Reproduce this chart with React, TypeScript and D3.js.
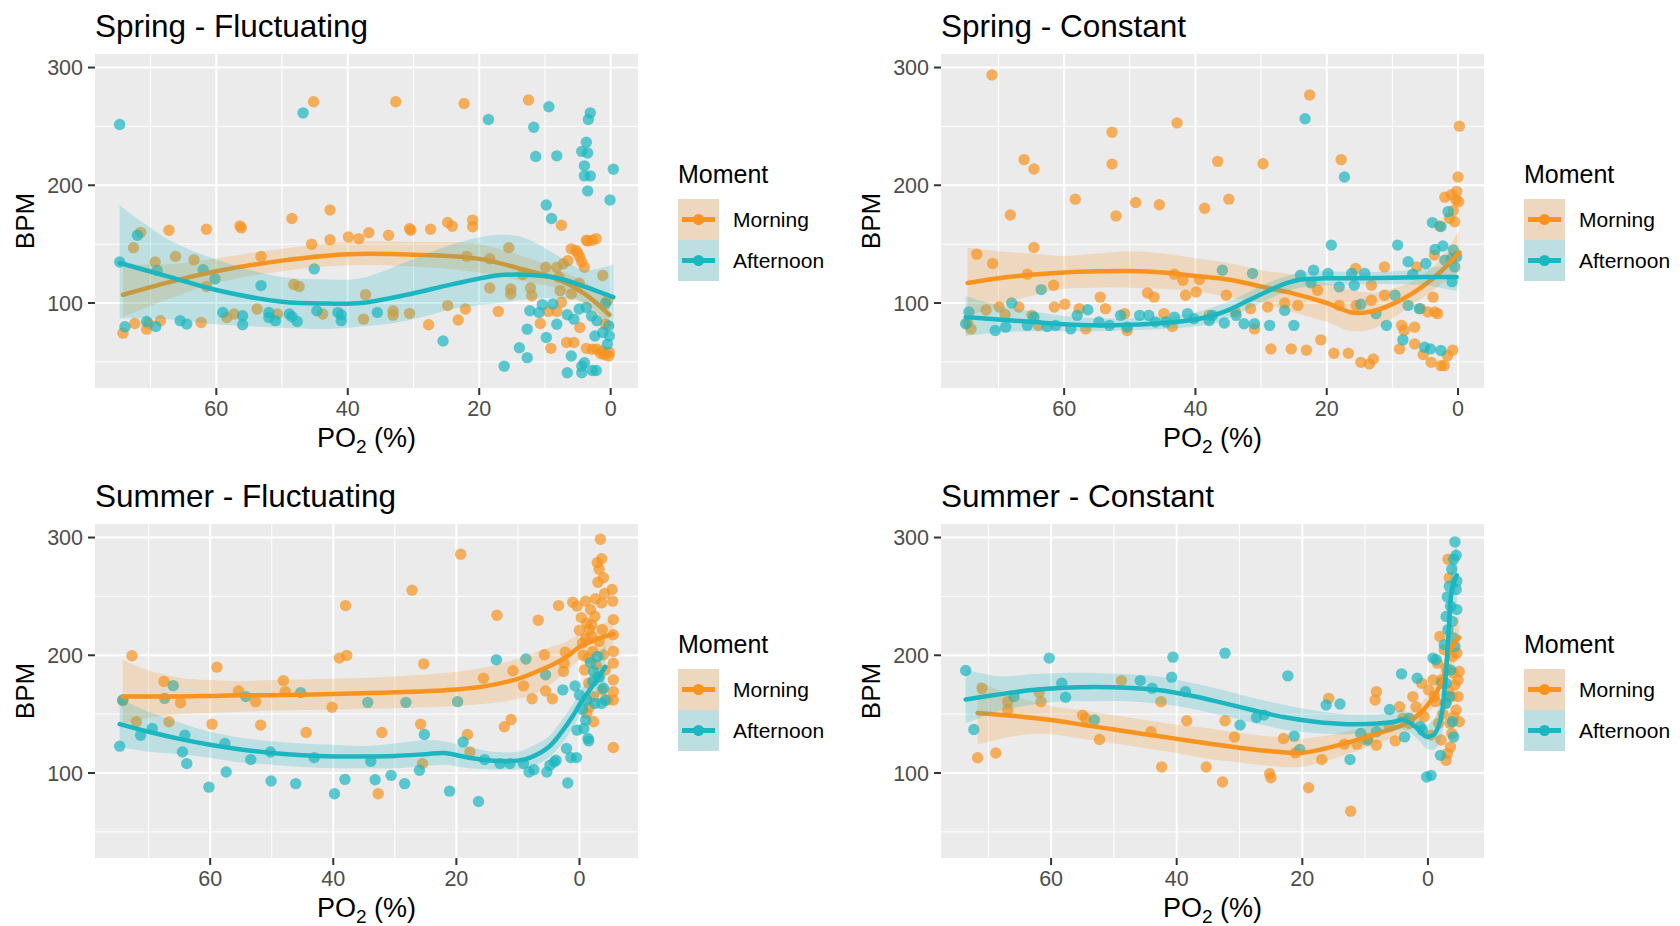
import React from 'react';
import * as d3 from 'd3';

type Pt = [number, number];
// po2, bpm, lower, upper
type Fit = [number, number, number, number];

const moments = ['Morning', 'Afternoon'];
const momentColors = ['#F7931E', '#1BB6C0'];
const xTicks = [60, 40, 20, 0];
const xMinor = [70, 50, 30, 10, -10];
const yTicks = [100, 200, 300];
const yMinor = [50, 150, 250];
const panelTitles = ['Spring - Fluctuating', 'Spring - Constant', 'Summer - Fluctuating', 'Summer - Constant'];

// ---- Spring - Fluctuating
const springFlucMorning: Pt[] = [
  [74.2, 74.4], [72.6, 147], [71.5, 160], [72.4, 82.6], [70.6, 77.8], [70.3, 82.6], [68.5, 85], [69.3, 134.8],
  [67.2, 161.8], [66.2, 139.6], [63.4, 136.8], [62.3, 83.5], [61.5, 162.7], [61.5, 114], [58.4, 87.7], [57.3, 90.6],
  [56.4, 165.5], [56.2, 163.8], [53.2, 139.6], [53.8, 94.9], [50.7, 90.6], [48.5, 171.8], [48.2, 115.7], [47.4, 114],
  [45.5, 149.9], [45.2, 271], [42.7, 179], [42.7, 153.8], [43.8, 90.6], [39.9, 156], [38.3, 154.7], [37.6, 86.3],
  [37.3, 107.1], [36.8, 159.8], [33.8, 157.5], [33.1, 93.4], [33.1, 89.7], [32.7, 271], [30.6, 163.2], [30.4, 161.8],
  [30.6, 91.2], [27.7, 81.5], [27.4, 162.7], [24.8, 97.8], [24.8, 168.4], [24.1, 165.2], [23.2, 85.5], [22.3, 269.5],
  [22.1, 94.9], [21, 170.4], [21, 164.7], [21.9, 139.6], [18.4, 137.6], [18.4, 112.8], [17.1, 92.9], [15.5, 147],
  [15.2, 107.7], [15.2, 112], [13.4, 124.2], [12.5, 272.4], [12.2, 112.8], [12, 106.2], [10.7, 82.6], [9.9, 130.4],
  [9.5, 92.9], [9.1, 61.5], [8.2, 92.9], [8.2, 130.4], [7.9, 122], [7.7, 110.5], [7.5, 100.6], [7.5, 166],
  [6.7, 66.4], [5.6, 66.4], [7.2, 133.3], [6.5, 136], [6, 146], [5.3, 144.7], [5, 142.5], [4.7, 139], [4.4, 134.8],
  [4, 130.4], [3.7, 153.3], [3.5, 152.7], [2.8, 153.3], [2.2, 154.7], [4.7, 79.2], [3.7, 61.5], [2.8, 60.7],
  [2.1, 60.7], [1.5, 57], [0.9, 56], [0.3, 55], [0.2, 58], [1.2, 59], [1.2, 123.4], [0.5, 102], [0.8, 82],
  [6, 107.7], [4.8, 116.8],
];
const springFlucAfternoon: Pt[] = [
  [74.7, 251.6], [74.7, 134.8], [73.9, 79.8], [72, 157.5], [70.6, 84.3], [69.2, 80], [69, 127.6], [65.5, 84.9],
  [64.5, 82.1], [62, 128.2], [60.2, 120.5], [59, 92], [56, 81.5], [56, 89.2], [53.2, 114.8], [52, 92], [52, 87.7],
  [51, 85], [48.9, 90.6], [48.5, 88.3], [47.7, 84.3], [46.8, 261.5], [45.1, 129], [44.7, 93.4], [41.5, 92], [41, 85],
  [41, 90], [35.5, 92], [25.5, 67.8], [18.6, 255.8], [16.2, 46.4], [13.9, 62], [12.7, 53.6], [12.7, 77.8],
  [12.3, 93.4], [11.7, 249.3], [11.4, 224.5], [10.9, 92], [10.4, 98.6], [9.8, 70.7], [9.8, 183.2], [9.4, 266.7],
  [9, 171.8], [8.8, 99.1], [8.2, 225], [8.2, 82], [6.6, 40.7], [6.6, 90], [6, 55], [5.6, 86.3], [4.8, 94.9],
  [4.4, 46.4], [4.4, 40.7], [4, 49.3], [4.4, 228.8], [4, 216.5], [4, 208], [3.7, 236.5], [3.5, 227.4], [3.5, 195.2],
  [3.4, 255.8], [3.1, 261.5], [3.1, 208], [3.7, 96.3], [2.8, 42.7], [2.2, 42.7], [2.4, 72], [2.9, 89], [2.1, 85],
  [1.2, 75], [0.8, 99.7], [0.5, 65], [0.3, 80.6], [0.1, 187.5], [-0.4, 213.7], [0.2, 72],
];
const springFlucMorningFit: Fit[] = [
  [74.2, 107, 88, 133], [67, 118, 104, 133], [60, 127, 117, 138], [50, 136, 127, 146], [40, 141.5, 132, 152],
  [30, 141, 131, 152], [20, 137.5, 126, 150], [13, 128, 118, 139], [8, 120, 112, 128], [4, 108, 99, 118], [0.2, 90, 78, 104],
];
const springFlucAfternoonFit: Fit[] = [
  [74.7, 134, 87, 183], [67, 122, 86, 153], [60, 111, 82, 137], [50, 101, 79, 122], [43, 99.5, 78, 120],
  [38, 100, 80, 121], [31, 107, 85, 135], [24, 116, 95, 150], [17, 123.5, 100, 158], [13, 124, 103, 155],
  [8, 121, 104, 140], [4, 114, 100, 128], [-0.4, 105, 78, 133],
];

// ---- Spring - Constant
const springConstMorning: Pt[] = [
  [71, 293.7], [73.3, 141.5], [70.9, 133.6], [68.2, 174.8], [66.1, 221.8], [64.6, 213.8], [64.6, 147.2], [65.6, 124.5],
  [61.6, 115.1], [74.7, 83], [74.2, 78], [71.9, 94], [69.9, 96.6], [69, 90.3], [66.9, 96.6], [64.9, 89.5], [63.9, 81],
  [61.5, 96.6], [59.9, 98.9], [58.3, 188.2], [57.7, 95.2], [56.7, 78], [54.5, 105], [53.7, 95.2], [52.7, 245],
  [52.7, 218], [52.1, 174], [50.8, 91], [50.4, 76.7], [49.1, 185.4], [47.3, 108.5], [46.3, 105], [45.5, 183.4],
  [44.8, 91], [43.5, 80], [42.8, 253], [43.2, 124.5], [41.9, 119.3], [41.5, 106.6], [39.9, 109.4], [39.4, 120],
  [38.6, 180.5], [37.9, 89.5], [36.6, 220.3], [35.3, 106.6], [34.9, 188.2], [33.9, 92.3], [31.6, 95.2], [31, 78],
  [29.7, 218.3], [29, 96.6], [28.5, 61], [26.4, 100], [25.4, 61], [24.4, 98], [23.1, 60], [22.6, 276.7],
  [21.4, 110.8], [20.9, 68.7], [18.9, 57.3], [17.8, 221.8], [18.1, 98], [16.7, 57.3], [15.6, 129.3], [15.5, 98],
  [14.8, 49.6], [13.5, 48.2], [12.9, 52.5], [13.2, 115], [13.2, 102.3], [11.2, 130.7], [11.2, 106.6], [8.9, 61],
  [8.6, 81], [8.2, 76.7], [6.6, 65.3], [6.6, 79.5], [6.3, 130.7], [5.7, 95.2], [5.3, 56.2], [4.6, 92.3], [4.1, 49.6],
  [3.8, 105], [3.6, 140.7], [3.5, 92.3], [3.1, 91], [2.8, 165.4], [2.6, 46.8], [2.1, 46.8], [2, 189.9], [1.6, 55.3],
  [1.3, 172], [1, 192], [0.8, 60], [0.7, 178.5], [0.5, 169], [0.3, 187.6], [0.2, 194.7], [0, 207], [-0.2, 250.2],
  [-0.1, 186],
];
const springConstAfternoon: Pt[] = [
  [75, 82.4], [74.5, 92.3], [70.5, 76.7], [68.9, 79.5], [68, 100], [65.6, 81], [64.6, 88], [63.5, 111.4], [62.6, 80],
  [61.3, 81], [59, 78], [58, 89.5], [56.4, 94.3], [54.7, 83.8], [53.1, 81], [51.4, 89.5], [50.4, 79.5], [48.5, 89.5],
  [47.1, 89.5], [46.1, 83.8], [44.5, 83.8], [43.2, 88], [41.2, 91], [40.2, 86.6], [37.9, 85.2], [37.4, 89.5],
  [35.9, 127.9], [35.6, 83], [33.8, 89.5], [32.6, 82.4], [31, 82.4], [31.3, 125], [28.7, 81], [26.4, 93.7], [25, 81],
  [24, 123.6], [23.3, 256.5], [22.4, 117.1], [22, 127.9], [19.8, 125], [19.3, 149.2], [18.1, 113.7], [17.3, 207],
  [16.2, 125], [15.8, 115], [14.8, 98.9], [14.2, 125], [12.5, 91], [10.9, 81], [9.6, 106.6], [9.2, 149.2],
  [8.4, 68.7], [7.6, 98], [7.6, 135], [6.9, 124.5], [5.9, 95.2], [5.1, 62.4], [4.2, 61], [2.6, 59.6], [4.9, 133.6],
  [3.9, 168.3], [3.5, 145.5], [2.6, 164.9], [2.3, 148.4], [2, 136.4], [1.5, 177.6], [1, 137.8], [0.9, 118],
  [0.7, 145], [0.5, 130.7], [0.2, 139.3],
];
const springConstMorningFit: Fit[] = [
  [74.7, 117, 88, 147], [70, 121, 98, 144], [65, 124, 106, 142], [60, 126, 112, 140], [55, 127, 113, 142],
  [50, 127.2, 113, 144], [45, 126, 112, 142], [40, 123, 110, 138], [35, 120, 105, 134], [30, 114, 100, 128],
  [25, 108, 92, 124], [20, 100, 84, 117], [16.2, 92, 76, 111], [13, 93, 78, 109], [10, 99, 87, 112],
  [7, 108, 98, 118], [4, 120, 110, 130], [2, 130, 118, 142], [-0.2, 143, 126, 162],
];
const springConstAfternoonFit: Fit[] = [
  [75, 88, 72, 106], [70, 86, 75, 98], [65, 84, 76, 93], [60, 82, 76, 89], [55, 81, 76, 87], [50, 81.5, 77, 87],
  [45, 83, 78, 88], [40, 86, 80, 92], [37, 90, 83, 97], [35, 94, 87, 101], [32, 102, 95, 109], [29, 110, 103, 117],
  [26, 117, 110, 123], [24, 120, 113, 126], [20, 121, 115, 127], [15, 121, 116, 126], [10, 121.5, 116, 127],
  [5, 122, 115, 129], [0.2, 122, 110, 134],
];

// ---- Summer - Fluctuating
const summerFlucMorning: Pt[] = [
  [74.2, 161.5], [72.7, 199.6], [72, 143.5], [67.5, 177.7], [66.7, 143.5], [64.8, 159.7], [59.7, 141.5],
  [58.9, 189.9], [55.4, 169.7], [52.6, 160.6], [51.8, 140.7], [48.1, 178.5], [47.8, 169.1], [44.4, 134.4],
  [40.2, 155.8], [39, 197.6], [38, 242.2], [37.8, 199.9], [32.7, 82.4], [32.1, 134.4], [27.2, 255.3], [25.8, 141.5],
  [25.5, 108], [25.3, 192.7], [19.3, 285.8], [18.2, 132.7], [17.8, 117.9], [15.6, 180.5], [13.4, 234], [12.2, 139.3],
  [11.1, 145.5], [10.8, 186.8], [9.1, 174], [7.7, 163.1], [6.7, 229.7], [5.7, 200.4], [5.5, 169.7], [4.4, 163.1],
  [3.4, 242.2], [2.6, 186.2], [2.5, 193.3], [2.3, 202.7], [1.1, 245.1], [0.4, 241.7], [0, 221.2], [-0.5, 210.4],
  [-0.8, 187.6], [-1, 246], [-1.2, 227.5], [-1.4, 197.6], [-1.5, 176.2], [-1.6, 155.8], [-1.8, 238.8], [-2, 216],
  [-2.2, 203.3], [-2.3, 164.9], [-2.5, 233.1], [-2.7, 191.9], [-2.9, 278.7], [-3, 181.9], [-3.2, 273], [-3.2, 211.8],
  [-3.4, 298.6], [-3.6, 282], [-3.6, 244.5], [-3.7, 221.8], [-3.7, 170.6], [-3.9, 265.9], [-3.9, 200.4],
  [-4.1, 252.5], [-4.2, 187.6], [-4.6, 162], [-5.3, 255.9], [-5.4, 246], [-5.5, 230.3], [-5.5, 217.5],
  [-5.5, 203.3], [-5.5, 193.3], [-5.5, 179.1], [-5.5, 169.1], [-5.5, 162], [-5.5, 121.6], [-1.2, 150.6],
  [-2.3, 143.5], [-0.3, 232], [-1.0, 214], [-2.0, 226], [-2.6, 248], [-3.0, 262], [-1.6, 222], [-0.6, 200],
];
const summerFlucAfternoon: Pt[] = [
  [74.7, 122.8], [74.2, 162], [71.3, 132.1], [69.4, 137.8], [67.4, 163.4], [66, 174.2], [64.5, 117.9], [64.1, 132.1],
  [63.8, 108], [60.2, 88], [57.6, 125], [57.4, 100.9], [54.2, 164.9], [53.4, 111.4], [50.2, 117.9], [50.1, 93.2],
  [46.1, 91], [45.3, 168.3], [43.1, 113.1], [39.8, 82.4], [38.1, 94.6], [34.4, 160], [33.9, 110], [33.2, 94.3],
  [30.6, 98], [28.4, 91], [28.2, 160], [26, 102.3], [25.2, 132.7], [21.1, 84.6], [19.8, 160.6], [18.9, 126.4],
  [16.4, 75.8], [15.4, 111.4], [13.5, 196.2], [12.9, 108], [11.3, 108], [9.1, 108], [8.7, 196.8], [8.2, 100.9],
  [7.4, 102.8], [5.5, 183.4], [5.3, 100.9], [4.8, 106.6], [4.1, 109.4], [3.8, 110.8], [2.7, 170.6], [2.1, 120.8],
  [1.9, 91.5], [1.4, 113.1], [0.7, 174], [0.5, 113.1], [0.4, 136.4], [0, 166.3], [-0.5, 154.1], [-0.7, 137.8],
  [-1, 144.9], [-1.2, 162], [-1.4, 129.3], [-1.5, 127.3], [-1.8, 193.9], [-2.2, 177.7], [-2.3, 186.2],
  [-2.5, 159.1], [-2.9, 199], [-3.2, 181.4], [-3.6, 159.1], [-3.9, 172], [-4.2, 162],
];
const summerFlucMorningFit: Fit[] = [
  [74.2, 165, 141, 196], [70, 165, 147, 187], [65, 165, 150, 181], [60, 165.5, 151, 179], [55, 166, 152, 178],
  [50, 166, 153, 179], [40, 167, 154, 180], [30, 168.5, 155, 182], [20, 171, 157, 186], [15, 174, 159, 190],
  [10, 180, 163, 197], [7, 186, 168, 203], [4, 193, 178, 208], [2, 199, 187, 212], [0, 207, 196, 218],
  [-3, 214, 204, 225], [-5.5, 218, 205, 231],
];
const summerFlucAfternoonFit: Fit[] = [
  [74.7, 141.5, 122, 163], [70, 135, 118, 152], [65, 129, 116, 143], [60, 124, 113, 135], [55, 120, 109, 130],
  [50, 117, 107, 127], [45, 115, 105, 125], [40, 114, 104, 124], [35, 114, 104, 123], [30, 114.5, 104, 125],
  [25, 116, 106, 128], [22, 117, 107, 127], [18, 113, 104, 122], [14, 110.5, 103, 118], [10, 110.5, 103, 118],
  [8, 113, 105, 122], [5, 122, 113, 131], [3, 134, 124, 144], [1, 149, 139, 159], [0, 158, 148, 168],
  [-2, 173, 160, 186], [-4.2, 190, 170, 210],
];

// ---- Summer - Constant
const summerConstMorning: Pt[] = [
  [71.7, 113], [71, 172], [68.8, 117], [66.9, 160.6], [66.9, 153.5], [61.9, 168.3], [61.6, 160.6], [55, 149.2],
  [54.5, 146.4], [52.3, 128.5], [48.8, 178.5], [44.1, 135], [42.5, 160.6], [42.4, 105.1], [38.4, 144.4],
  [35.3, 105.1], [32.7, 92.3], [32.3, 144.4], [30.8, 130.7], [25.2, 99.4], [25, 96], [23, 129.3], [21.1, 117.1],
  [19, 87.5], [16.9, 111.4], [15.8, 163.4], [13.3, 124.5], [12.3, 67.6], [11.3, 124.5], [9.5, 129.3], [8.4, 162],
  [8.2, 169.1], [8.2, 123.6], [6.1, 139.3], [5.2, 127.3], [4.5, 156.3], [4, 146.4], [3, 142.2], [2.4, 164.9],
  [1.9, 156.3], [1, 176.2], [0.6, 147.8], [-0.1, 170.6], [-0.5, 132.2], [-0.8, 179.1], [-1.2, 160.6], [-1.5, 193.3],
  [-1.7, 142.2], [-1.9, 216], [-2.1, 128], [-2.2, 179.1], [-2.6, 204.7], [-2.8, 159.2], [-2.9, 189.1],
  [-3.1, 116.5], [-3.2, 281.5], [-3.4, 265.9], [-3.5, 142.2], [-3.6, 122.2], [-3.8, 164.9], [-3.8, 133.6],
  [-3.9, 199], [-4.1, 147.8], [-4.3, 174.8], [-4.5, 153.5], [-4.6, 201.8], [-4.8, 179.1], [-4.8, 164.9],
  [-5, 186.2], [-5, 143.5], [-2.9, 110.8], [-3.3, 170], [-4.0, 185], [-2.4, 150], [-1.0, 165],
];
const summerConstAfternoon: Pt[] = [
  [73.6, 187], [72.3, 137], [65.9, 164.9], [60.3, 197.6], [58.3, 176.2], [57.7, 164.3], [53.1, 145], [45.8, 178.5],
  [43.9, 172], [40.8, 181.4], [40.6, 198.4], [38.6, 169.1], [32.3, 201.8], [29.9, 140.7], [27.3, 147.2],
  [26.1, 149.2], [22.3, 182.5], [21.3, 131.3], [20.4, 120], [16.2, 157.8], [14, 158.6], [12.4, 111.4],
  [10.7, 133.6], [9.7, 127.9], [8.2, 135], [6.1, 154], [4.2, 184.2], [3.7, 130.7], [3, 146.4], [1.7, 180.5],
  [1.2, 139.3], [0.2, 96.6], [-0.5, 98], [-0.8, 197.6], [-1.3, 196.2], [0.9, 136.4], [-2, 115], [-2.2, 176.2],
  [-2.6, 209], [-2.9, 233], [-3.1, 249.6], [-3.2, 221.8], [-3.4, 258.7], [-3.6, 187.6], [-3.6, 241.7], [-3.8, 273],
  [-3.9, 228.8], [-3.9, 143.5], [-4.1, 214.7], [-4.1, 281.5], [-4.3, 207.5], [-4.3, 296.3], [-4.5, 285],
  [-4.5, 255.9], [-4.6, 263], [-4.6, 238.8], [-4.1, 130.7], [-2.9, 159.2], [-2.9, 176.2], [-3.4, 164.9],
];
const summerConstMorningFit: Fit[] = [
  [71.7, 151, 124, 178], [65, 148, 132, 164], [60, 145, 133, 157], [55, 141, 129, 153], [50, 137, 125, 149],
  [45, 133, 121, 145], [40, 129, 117, 141], [35, 125, 112, 138], [30, 121.5, 109, 134], [25, 118.5, 106, 131],
  [20.5, 117, 105, 129], [17, 120, 109, 131], [14, 124, 114, 134], [10, 130, 121, 139], [6, 137, 129, 145],
  [3.5, 142, 135, 150], [1, 152, 144, 160], [0, 158, 150, 166], [-1.5, 170, 160, 180], [-2.5, 182, 170, 194],
  [-3.5, 205, 190, 220], [-5, 215, 196, 234],
];
const summerConstAfternoonFit: Fit[] = [
  [73.6, 162.5, 142, 188], [68, 167, 153, 182], [63, 170.5, 158, 184], [58, 172.5, 161, 185], [53, 173, 161, 185],
  [48, 172.5, 161, 184], [43, 170.5, 159, 182], [38, 166, 155, 177], [33, 160, 149, 171], [28, 153.5, 143, 164],
  [23, 147.5, 137, 158], [18, 143.5, 134, 153], [13, 141.5, 133, 150], [8, 142, 134, 150], [5, 144, 136, 152],
  [4.2, 145.5, 137, 154], [3, 143, 135, 151], [1.5, 137, 128, 146], [0.3, 131, 121, 141], [-1, 133, 120, 146],
  [-2, 145, 128, 162], [-2.8, 180, 160, 200], [-3.3, 220, 198, 242], [-3.8, 255, 232, 278], [-4.6, 268, 240, 296],
];

const panelPoints: Pt[][][] = [
  [springFlucMorning, springFlucAfternoon],
  [springConstMorning, springConstAfternoon],
  [summerFlucMorning, summerFlucAfternoon],
  [summerConstMorning, summerConstAfternoon],
];
const panelFits: Fit[][][] = [
  [springFlucMorningFit, springFlucAfternoonFit],
  [springConstMorningFit, springConstAfternoonFit],
  [summerFlucMorningFit, summerFlucAfternoonFit],
  [summerConstMorningFit, summerConstAfternoonFit],
];

// layout
const W = 1680;
const H = 926;
const panelW = 543;
const panelH = 334;
const panelPos = [
  { left: 95, top: 54 },
  { left: 941, top: 54 },
  { left: 95, top: 524 },
  { left: 941, top: 524 },
];
const FONT = '"Liberation Sans", Arial, Helvetica, sans-serif';

const expand = (ext: [number, number]): [number, number] => {
  const r = ext[1] - ext[0];
  return [ext[0] - r * 0.05, ext[1] + r * 0.05];
};

const allY = panelPoints.flat(2).map((d) => d[1]);
const yDomain = expand(d3.extent(allY) as [number, number]);

const Panel: React.FC<{ idx: number }> = ({ idx }) => {
  const { left, top } = panelPos[idx];
  const right = left + panelW;
  const bottom = top + panelH;
  const pts = panelPoints[idx];
  const fits = panelFits[idx];
  const xs = pts.flat().map((d) => d[0]);
  const xDom = expand(d3.extent(xs) as [number, number]);

  // PO2 axis is reversed: high values on the left
  const x = d3.scaleLinear().domain([xDom[1], xDom[0]]).range([left, right]);
  const y = d3.scaleLinear().domain(yDomain).range([bottom, top]);

  const line = d3.line<Fit>().x((d) => x(d[0])).y((d) => y(d[1])).curve(d3.curveCatmullRom.alpha(0.5));
  const band = d3
    .area<Fit>()
    .x((d) => x(d[0]))
    .y0((d) => y(d[2]))
    .y1((d) => y(d[3]))
    .curve(d3.curveCatmullRom.alpha(0.5));

  const inX = (v: number) => v >= xDom[0] && v <= xDom[1];
  const legX = right + 40;
  const keyTop = top + 145;

  return (
    <g>
      <text x={left} y={top - 17} fontSize={31.5} fill="#000">{panelTitles[idx]}</text>
      <rect x={left} y={top} width={panelW} height={panelH} fill="#EBEBEB" />
      {xMinor.filter(inX).map((t) => (
        <line key={'xm' + t} x1={x(t)} x2={x(t)} y1={top} y2={bottom} stroke="#fff" strokeWidth={1} />
      ))}
      {yMinor.map((t) => (
        <line key={'ym' + t} x1={left} x2={right} y1={y(t)} y2={y(t)} stroke="#fff" strokeWidth={1} />
      ))}
      {xTicks.map((t) => (
        <line key={'xg' + t} x1={x(t)} x2={x(t)} y1={top} y2={bottom} stroke="#fff" strokeWidth={2} />
      ))}
      {yTicks.map((t) => (
        <line key={'yg' + t} x1={left} x2={right} y1={y(t)} y2={y(t)} stroke="#fff" strokeWidth={2} />
      ))}

      {pts.map((series, s) => (
        <g key={'p' + s} fill={momentColors[s]} fillOpacity={0.7}>
          {series.map((d, i) => (
            <circle key={i} cx={x(d[0])} cy={y(d[1])} r={5.7} />
          ))}
        </g>
      ))}

      {fits.map((f, s) => (
        <g key={'f' + s}>
          <path d={band(f) || ''} fill={momentColors[s]} fillOpacity={0.22} />
          <path d={line(f) || ''} fill="none" stroke={momentColors[s]} strokeWidth={4.5} strokeLinecap="round" />
        </g>
      ))}

      {/* axes */}
      {yTicks.map((t) => (
        <g key={'yt' + t}>
          <line x1={left - 7} x2={left} y1={y(t)} y2={y(t)} stroke="#333" strokeWidth={2} />
          <text x={left - 12} y={y(t)} dy="0.36em" textAnchor="end" fontSize={21.5} fill="#4D4D4D">{t}</text>
        </g>
      ))}
      {xTicks.map((t) => (
        <g key={'xt' + t}>
          <line x1={x(t)} x2={x(t)} y1={bottom} y2={bottom + 7} stroke="#333" strokeWidth={2} />
          <text x={x(t)} y={bottom + 28} textAnchor="middle" fontSize={21.5} fill="#4D4D4D">{t}</text>
        </g>
      ))}
      <text x={(left + right) / 2} y={bottom + 59} textAnchor="middle" fontSize={27} fill="#000">
        <tspan>PO</tspan>
        <tspan fontSize={19} dy={6}>2</tspan>
        <tspan dy={-6}> (%)</tspan>
      </text>
      <text
        transform={`translate(${left - 70},${(top + bottom) / 2}) rotate(-90)`}
        textAnchor="middle"
        dy="0.36em"
        fontSize={26}
        fill="#000"
      >
        BPM
      </text>

      {/* legend */}
      <text x={legX} y={top + 129} fontSize={25} fill="#000">Moment</text>
      {moments.map((m, s) => {
        const ky = keyTop + s * 41;
        return (
          <g key={m}>
            <rect x={legX} y={ky} width={41} height={41} fill="#EBEBEB" />
            <rect x={legX} y={ky} width={41} height={41} fill={momentColors[s]} fillOpacity={0.22} />
            <line x1={legX + 4} x2={legX + 37} y1={ky + 20.5} y2={ky + 20.5} stroke={momentColors[s]} strokeWidth={5} />
            <circle cx={legX + 20.5} cy={ky + 20.5} r={5.5} fill={momentColors[s]} />
            <text x={legX + 55} y={ky + 28} fontSize={21} fill="#000">{m}</text>
          </g>
        );
      })}
    </g>
  );
};

export default function App() {
  return (
    <svg
      width={W}
      height={H}
      viewBox={`0 0 ${W} ${H}`}
      style={{ position: 'absolute', left: 0, top: 0, background: '#fff', fontFamily: FONT }}
    >
      <rect width={W} height={H} fill="#fff" />
      {panelTitles.map((_, i) => (
        <Panel key={i} idx={i} />
      ))}
    </svg>
  );
}
